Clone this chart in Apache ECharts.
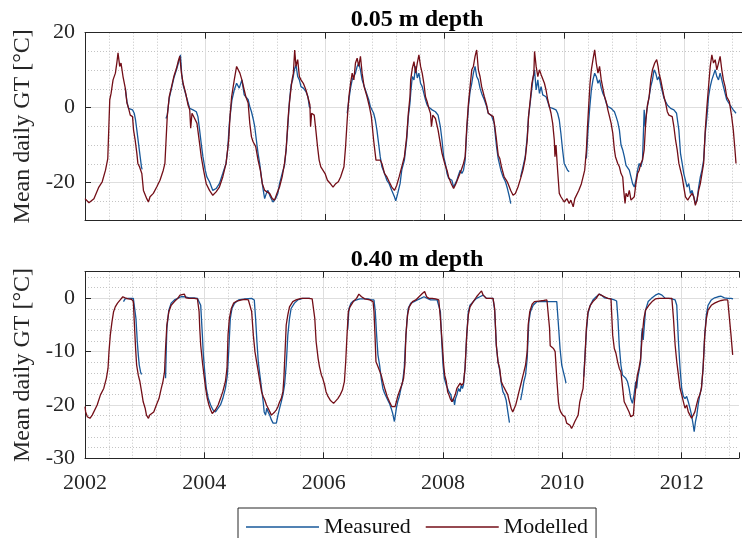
<!DOCTYPE html>
<html><head><meta charset="utf-8">
<script src="https://cdn.jsdelivr.net/npm/echarts@6/dist/echarts.min.js"></script>
<style>html,body{margin:0;padding:0;background:#fff}#c{width:742px;height:538px}</style>
</head><body><div id="c"></div>
<script>
// ---- axis ranges / labels ----
const xMin = 2002, xMax = 2012.96;
const topYMin = -30, topYMax = 20;
const deepYMin = -30, deepYMax = 5;
const panelTitles = ['0.05 m depth', '0.40 m depth'];
const seriesNames = ['Measured', 'Modelled'];
const yAxisName = 'Mean daily GT [°C]';

// ---- 0.05 m depth: [decimal year, °C] ----
const topModelled = [[2002.000,-24.3],[2002.066,-25.4],[2002.149,-24.3],[2002.231,-21.2],[2002.287,-19.8],[2002.342,-16.7],[2002.380,-13.6],[2002.413,2.1],[2002.435,3.8],[2002.468,7.4],[2002.507,9.2],[2002.534,12.3],[2002.551,14.6],[2002.579,11.0],[2002.601,11.9],[2002.634,8.3],[2002.672,5.2],[2002.700,1.2],[2002.727,-0.2],[2002.755,-2.0],[2002.793,-2.4],[2002.810,-6.0],[2002.837,-8.7],[2002.865,-12.2],[2002.882,-14.9],[2002.909,-15.8],[2002.948,-17.6],[2002.975,-22.1],[2003.030,-24.3],[2003.058,-25.2],[2003.085,-23.8],[2003.140,-22.9],[2003.196,-21.2],[2003.251,-19.4],[2003.306,-16.7],[2003.333,-14.9],[2003.372,-2.4],[2003.405,2.9],[2003.444,5.6],[2003.482,8.3],[2003.526,10.5],[2003.554,12.3],[2003.581,13.7],[2003.609,9.2],[2003.636,6.5],[2003.680,3.8],[2003.719,0.7],[2003.747,-0.6],[2003.763,-5.5],[2003.785,-1.5],[2003.829,-2.9],[2003.868,-4.2],[2003.912,-9.6],[2003.939,-13.1],[2003.978,-16.7],[2004.022,-20.3],[2004.077,-22.1],[2004.132,-23.4],[2004.187,-22.5],[2004.242,-21.2],[2004.298,-18.5],[2004.353,-14.9],[2004.397,-8.7],[2004.419,-2.4],[2004.446,2.9],[2004.490,7.4],[2004.529,11.0],[2004.551,10.5],[2004.584,9.2],[2004.617,7.4],[2004.656,4.7],[2004.683,2.9],[2004.722,1.2],[2004.749,-4.2],[2004.777,-7.8],[2004.804,-9.1],[2004.848,-10.4],[2004.887,-14.0],[2004.925,-16.7],[2004.958,-20.3],[2004.997,-22.1],[2005.036,-22.5],[2005.080,-22.9],[2005.124,-24.3],[2005.162,-24.7],[2005.201,-22.9],[2005.245,-21.2],[2005.289,-18.5],[2005.328,-14.9],[2005.355,-11.3],[2005.383,-4.2],[2005.399,-0.6],[2005.421,2.9],[2005.454,7.4],[2005.476,9.2],[2005.498,15.4],[2005.520,11.0],[2005.548,12.8],[2005.576,8.3],[2005.603,7.4],[2005.642,6.5],[2005.686,4.7],[2005.730,2.1],[2005.752,0.7],[2005.763,-5.1],[2005.780,-1.5],[2005.824,-2.0],[2005.851,-6.0],[2005.879,-10.4],[2005.906,-14.0],[2005.934,-15.8],[2005.961,-15.8],[2006.005,-17.6],[2006.044,-19.4],[2006.099,-20.4],[2006.138,-21.2],[2006.182,-20.3],[2006.226,-19.8],[2006.264,-18.5],[2006.320,-15.8],[2006.347,-10.4],[2006.374,-3.3],[2006.402,2.9],[2006.430,6.5],[2006.457,9.2],[2006.485,7.4],[2006.512,11.9],[2006.540,13.2],[2006.567,11.0],[2006.595,13.7],[2006.623,9.2],[2006.656,5.6],[2006.705,2.9],[2006.744,0.3],[2006.777,-2.4],[2006.815,-8.7],[2006.854,-14.0],[2006.887,-14.5],[2006.925,-14.0],[2006.953,-14.9],[2006.997,-17.6],[2007.036,-18.5],[2007.074,-19.8],[2007.118,-21.2],[2007.162,-22.1],[2007.201,-20.7],[2007.240,-18.5],[2007.284,-15.8],[2007.328,-13.1],[2007.366,-7.8],[2007.394,-1.5],[2007.421,2.9],[2007.433,7.4],[2007.460,10.5],[2007.488,12.3],[2007.515,9.2],[2007.543,11.9],[2007.570,14.1],[2007.598,11.0],[2007.625,9.2],[2007.653,6.5],[2007.680,2.9],[2007.708,1.6],[2007.736,-0.2],[2007.763,-1.5],[2007.780,-5.1],[2007.802,-2.0],[2007.846,-2.9],[2007.890,-6.0],[2007.928,-9.6],[2007.956,-12.2],[2008.000,-14.9],[2008.039,-16.7],[2008.066,-18.5],[2008.110,-20.3],[2008.149,-21.6],[2008.187,-20.3],[2008.231,-18.5],[2008.276,-16.7],[2008.314,-14.9],[2008.342,-13.1],[2008.369,-5.1],[2008.397,1.2],[2008.424,5.6],[2008.452,10.1],[2008.479,11.0],[2008.507,13.7],[2008.534,15.4],[2008.562,10.1],[2008.590,8.3],[2008.617,5.6],[2008.661,2.9],[2008.700,0.7],[2008.727,-1.5],[2008.755,-2.0],[2008.810,-2.4],[2008.837,-5.1],[2008.865,-8.7],[2008.893,-12.7],[2008.920,-13.6],[2008.948,-15.8],[2008.992,-18.5],[2009.030,-19.4],[2009.058,-20.3],[2009.102,-22.1],[2009.141,-23.4],[2009.179,-22.9],[2009.223,-21.2],[2009.267,-18.9],[2009.306,-16.7],[2009.344,-13.6],[2009.377,-8.7],[2009.399,-2.4],[2009.433,2.9],[2009.455,6.5],[2009.488,9.2],[2009.499,15.0],[2009.526,11.0],[2009.554,8.3],[2009.581,10.1],[2009.609,8.8],[2009.636,9.2],[2009.664,6.5],[2009.691,4.7],[2009.719,2.1],[2009.747,0.3],[2009.774,-1.5],[2009.802,-4.2],[2009.829,-8.7],[2009.840,-13.1],[2009.857,-10.0],[2009.884,-16.7],[2009.912,-22.9],[2009.939,-23.8],[2009.967,-23.4],[2009.994,-25.2],[2010.039,-24.3],[2010.077,-25.6],[2010.105,-24.7],[2010.144,-26.5],[2010.171,-24.3],[2010.199,-23.8],[2010.237,-22.1],[2010.281,-20.3],[2010.309,-18.5],[2010.336,-16.7],[2010.364,-11.3],[2010.380,-6.0],[2010.402,0.3],[2010.425,6.5],[2010.447,10.1],[2010.474,12.8],[2010.502,15.4],[2010.529,11.9],[2010.557,9.2],[2010.584,11.0],[2010.612,7.4],[2010.639,5.2],[2010.667,2.9],[2010.695,1.6],[2010.722,-0.6],[2010.750,-2.4],[2010.777,-4.2],[2010.805,-6.9],[2010.832,-11.3],[2010.849,-13.1],[2010.887,-14.9],[2010.915,-15.8],[2010.942,-17.6],[2010.970,-18.5],[2010.987,-22.1],[2011.009,-25.6],[2011.025,-22.9],[2011.053,-23.8],[2011.080,-22.1],[2011.108,-24.7],[2011.135,-25.2],[2011.163,-23.8],[2011.190,-20.3],[2011.218,-17.6],[2011.245,-16.7],[2011.273,-14.9],[2011.300,-14.0],[2011.328,-11.3],[2011.356,-3.3],[2011.383,0.7],[2011.411,2.9],[2011.438,7.4],[2011.466,10.1],[2011.504,11.9],[2011.537,12.8],[2011.560,11.0],[2011.576,9.2],[2011.604,7.4],[2011.631,5.2],[2011.659,2.9],[2011.686,1.2],[2011.714,-1.1],[2011.741,-2.0],[2011.796,-2.4],[2011.824,-5.1],[2011.852,-8.7],[2011.879,-11.3],[2011.907,-14.9],[2011.934,-16.7],[2011.962,-18.5],[2011.989,-21.2],[2012.017,-23.8],[2012.055,-24.7],[2012.088,-23.8],[2012.127,-22.9],[2012.155,-23.8],[2012.182,-26.1],[2012.210,-24.7],[2012.237,-22.1],[2012.265,-20.3],[2012.292,-17.6],[2012.320,-14.9],[2012.347,-6.0],[2012.375,0.3],[2012.402,5.6],[2012.430,11.0],[2012.457,14.1],[2012.485,11.9],[2012.513,12.8],[2012.540,10.1],[2012.568,11.9],[2012.595,13.7],[2012.623,10.1],[2012.650,7.4],[2012.678,5.6],[2012.705,2.9],[2012.749,1.6],[2012.788,-2.4],[2012.815,-6.0],[2012.843,-11.3],[2012.860,-14.9]];

const topMeasured = [[2002.672,5.2],[2002.700,1.6],[2002.727,-0.2],[2002.755,-0.4],[2002.793,-0.6],[2002.821,-1.5],[2002.843,-3.3],[2002.865,-6.0],[2002.893,-9.6],[2002.920,-13.1],[2002.942,-15.8],[2002.953,-16.5],[2002.960,null],
[2003.350,-2.9],[2003.372,-2.0],[2003.405,2.5],[2003.444,5.2],[2003.482,7.9],[2003.526,10.1],[2003.565,12.3],[2003.592,14.1],[2003.614,8.8],[2003.636,6.1],[2003.691,2.9],[2003.747,-0.2],[2003.802,-0.6],[2003.857,-1.1],[2003.884,-2.4],[2003.912,-6.0],[2003.939,-9.6],[2003.967,-13.1],[2004.006,-16.7],[2004.033,-18.5],[2004.077,-19.8],[2004.132,-22.1],[2004.187,-21.6],[2004.242,-20.3],[2004.298,-17.6],[2004.353,-14.9],[2004.380,-11.3],[2004.408,-4.2],[2004.435,-0.2],[2004.452,2.1],[2004.490,4.7],[2004.529,6.5],[2004.573,5.2],[2004.617,7.4],[2004.656,3.4],[2004.683,2.9],[2004.722,2.1],[2004.749,0.3],[2004.777,-1.1],[2004.804,-2.9],[2004.832,-5.1],[2004.859,-8.7],[2004.887,-12.2],[2004.914,-14.9],[2004.942,-18.5],[2004.969,-21.6],[2004.997,-24.3],[2005.025,-22.9],[2005.052,-22.1],[2005.091,-23.8],[2005.135,-25.2],[2005.179,-24.3],[2005.217,-22.9],[2005.245,-20.3],[2005.289,-17.6],[2005.328,-15.4],[2005.355,-11.3],[2005.383,-5.1],[2005.410,1.6],[2005.438,6.1],[2005.465,7.4],[2005.493,10.1],[2005.520,11.4],[2005.548,8.3],[2005.576,7.4],[2005.603,5.6],[2005.642,5.2],[2005.686,4.3],[2005.719,2.9],[2005.741,0.3],[2005.768,-0.2],[2005.780,null],
[2006.374,-1.5],[2006.402,2.1],[2006.430,5.2],[2006.457,7.4],[2006.512,9.2],[2006.540,11.0],[2006.567,11.9],[2006.595,10.1],[2006.623,7.4],[2006.678,4.7],[2006.733,2.1],[2006.760,0.3],[2006.788,-0.2],[2006.815,-1.5],[2006.843,-3.3],[2006.870,-6.0],[2006.898,-9.6],[2006.925,-13.1],[2006.953,-15.8],[2006.997,-17.6],[2007.036,-19.4],[2007.074,-20.3],[2007.118,-22.1],[2007.162,-23.8],[2007.184,-24.9],[2007.217,-22.9],[2007.256,-20.3],[2007.284,-16.7],[2007.328,-14.0],[2007.366,-8.7],[2007.394,-2.4],[2007.421,1.2],[2007.433,3.8],[2007.460,8.3],[2007.488,7.4],[2007.515,11.0],[2007.543,7.9],[2007.570,9.2],[2007.598,6.5],[2007.625,5.6],[2007.653,3.8],[2007.680,2.1],[2007.708,0.7],[2007.736,0.1],[2007.791,-0.6],[2007.846,-1.1],[2007.890,-2.0],[2007.928,-5.1],[2007.956,-8.7],[2007.983,-13.1],[2008.011,-14.9],[2008.039,-17.6],[2008.066,-18.9],[2008.094,-18.5],[2008.121,-19.4],[2008.149,-21.2],[2008.176,-20.3],[2008.204,-19.4],[2008.231,-18.0],[2008.259,-16.7],[2008.287,-17.6],[2008.314,-16.7],[2008.342,-14.0],[2008.369,-6.0],[2008.397,0.3],[2008.424,4.3],[2008.452,6.5],[2008.479,9.2],[2008.507,11.0],[2008.534,8.3],[2008.562,7.4],[2008.590,5.2],[2008.617,3.8],[2008.661,2.1],[2008.700,0.3],[2008.727,-1.5],[2008.782,-2.2],[2008.826,-4.2],[2008.865,-10.4],[2008.893,-13.6],[2008.937,-16.7],[2008.975,-18.5],[2009.014,-19.8],[2009.047,-21.6],[2009.080,-23.8],[2009.102,-25.6],[2009.110,null],
[2009.267,-18.5],[2009.306,-15.8],[2009.344,-13.1],[2009.377,-7.8],[2009.399,-2.4],[2009.433,2.1],[2009.471,7.4],[2009.499,10.1],[2009.526,4.7],[2009.554,7.4],[2009.581,3.8],[2009.609,5.6],[2009.636,3.4],[2009.664,3.8],[2009.691,2.9],[2009.719,1.6],[2009.747,0.1],[2009.802,-0.2],[2009.857,-0.6],[2009.884,-1.5],[2009.912,-3.3],[2009.939,-6.9],[2009.967,-11.3],[2009.994,-14.9],[2010.022,-15.8],[2010.050,-16.7],[2010.077,-17.1],[2010.090,null],
[2010.364,-13.6],[2010.391,-6.0],[2010.419,-0.2],[2010.447,4.7],[2010.474,7.4],[2010.502,9.2],[2010.529,8.3],[2010.557,6.5],[2010.584,7.4],[2010.612,5.2],[2010.639,3.8],[2010.667,2.9],[2010.695,1.2],[2010.722,0.3],[2010.777,-0.2],[2010.832,-1.1],[2010.860,-2.4],[2010.887,-3.8],[2010.915,-6.0],[2010.942,-10.0],[2010.970,-11.3],[2010.997,-13.1],[2011.025,-15.4],[2011.053,-15.8],[2011.080,-16.7],[2011.108,-18.5],[2011.135,-20.3],[2011.163,-21.2],[2011.190,-19.4],[2011.218,-16.7],[2011.245,-14.9],[2011.273,-15.8],[2011.300,-14.0],[2011.317,-6.0],[2011.328,-0.6],[2011.345,-5.1],[2011.372,-0.6],[2011.411,2.9],[2011.438,5.6],[2011.466,7.4],[2011.493,10.1],[2011.521,9.2],[2011.548,7.4],[2011.576,8.3],[2011.604,6.1],[2011.631,4.3],[2011.659,2.5],[2011.686,1.6],[2011.714,0.7],[2011.769,-0.2],[2011.824,-0.6],[2011.868,-1.5],[2011.907,-6.0],[2011.934,-12.2],[2011.962,-14.9],[2011.989,-17.6],[2012.017,-19.4],[2012.044,-21.2],[2012.072,-20.3],[2012.099,-22.9],[2012.127,-22.1],[2012.155,-23.8],[2012.182,-25.6],[2012.210,-24.7],[2012.237,-21.2],[2012.265,-18.5],[2012.292,-16.7],[2012.320,-14.0],[2012.347,-6.9],[2012.375,-2.4],[2012.402,2.9],[2012.430,5.6],[2012.457,7.4],[2012.485,7.9],[2012.513,10.1],[2012.540,8.3],[2012.568,7.4],[2012.595,9.2],[2012.623,7.4],[2012.650,5.6],[2012.678,3.8],[2012.705,2.1],[2012.733,1.6],[2012.760,0.7],[2012.815,-0.6],[2012.860,-1.5]];

// ---- 0.40 m depth: [decimal year, °C] ----
const deepModelled = [[2002.000,-20.3],[2002.011,-21.3],[2002.039,-22.2],[2002.083,-22.5],[2002.121,-21.9],[2002.149,-21.6],[2002.204,-20.0],[2002.259,-18.1],[2002.314,-16.9],[2002.358,-15.0],[2002.386,-13.1],[2002.402,-10.0],[2002.424,-6.9],[2002.452,-4.4],[2002.479,-2.5],[2002.507,-1.6],[2002.545,-0.9],[2002.590,-0.3],[2002.634,0.3],[2002.672,0.1],[2002.727,-0.1],[2002.782,-0.2],[2002.810,-0.6],[2002.826,-4.4],[2002.848,-9.4],[2002.865,-12.5],[2002.893,-14.4],[2002.920,-15.6],[2002.948,-17.5],[2002.975,-19.4],[2003.008,-20.6],[2003.030,-21.9],[2003.063,-22.5],[2003.085,-21.9],[2003.113,-21.6],[2003.152,-21.3],[2003.196,-20.0],[2003.240,-18.8],[2003.278,-16.9],[2003.306,-15.6],[2003.333,-13.8],[2003.350,-9.4],[2003.372,-5.0],[2003.405,-2.5],[2003.444,-1.3],[2003.499,-0.6],[2003.554,0.0],[2003.592,0.6],[2003.625,0.3],[2003.664,0.8],[2003.691,0.1],[2003.747,0.0],[2003.829,0.0],[2003.884,-0.1],[2003.912,-2.5],[2003.923,-5.6],[2003.939,-8.8],[2003.967,-11.9],[2003.994,-14.4],[2004.022,-16.9],[2004.050,-18.8],[2004.077,-20.0],[2004.105,-20.9],[2004.132,-21.6],[2004.160,-21.3],[2004.187,-20.9],[2004.231,-20.0],[2004.270,-18.8],[2004.309,-17.5],[2004.353,-15.6],[2004.380,-13.1],[2004.397,-6.9],[2004.419,-3.8],[2004.452,-1.9],[2004.490,-0.9],[2004.545,-0.5],[2004.628,-0.3],[2004.683,-0.2],[2004.738,-0.3],[2004.766,-0.3],[2004.793,-2.5],[2004.821,-6.9],[2004.848,-10.0],[2004.876,-11.9],[2004.904,-13.8],[2004.931,-15.6],[2004.959,-17.5],[2004.986,-18.4],[2005.014,-19.1],[2005.041,-20.0],[2005.069,-20.6],[2005.096,-20.9],[2005.124,-21.9],[2005.152,-22.2],[2005.179,-21.3],[2005.207,-20.9],[2005.234,-20.3],[2005.262,-19.4],[2005.289,-18.8],[2005.317,-17.5],[2005.333,-15.0],[2005.355,-9.4],[2005.372,-5.0],[2005.399,-3.1],[2005.427,-1.6],[2005.482,-0.6],[2005.537,-0.3],[2005.620,0.0],[2005.697,0.0],[2005.752,0.0],[2005.807,-0.1],[2005.835,-0.3],[2005.851,-3.8],[2005.873,-8.1],[2005.907,-11.3],[2005.929,-12.8],[2005.962,-14.4],[2005.984,-15.0],[2006.017,-16.3],[2006.039,-17.5],[2006.072,-18.4],[2006.110,-19.1],[2006.138,-19.4],[2006.166,-19.7],[2006.193,-19.4],[2006.237,-18.8],[2006.276,-18.1],[2006.314,-17.2],[2006.347,-15.6],[2006.369,-11.9],[2006.391,-6.9],[2006.413,-2.5],[2006.441,-1.6],[2006.496,-0.6],[2006.551,0.0],[2006.590,0.8],[2006.634,0.3],[2006.689,-0.1],[2006.772,-0.3],[2006.827,-0.6],[2006.843,-2.5],[2006.860,-6.9],[2006.876,-11.9],[2006.909,-12.8],[2006.937,-13.1],[2006.964,-14.4],[2006.998,-15.9],[2007.031,-17.2],[2007.064,-18.4],[2007.102,-19.4],[2007.141,-20.3],[2007.174,-20.6],[2007.196,-20.3],[2007.218,-19.4],[2007.240,-18.4],[2007.267,-17.5],[2007.306,-16.3],[2007.339,-15.0],[2007.361,-12.5],[2007.378,-6.9],[2007.405,-3.1],[2007.433,-1.6],[2007.488,-0.6],[2007.543,-0.3],[2007.598,0.3],[2007.653,0.9],[2007.692,1.3],[2007.725,0.3],[2007.763,0.0],[2007.818,0.0],[2007.874,-0.1],[2007.929,-0.3],[2007.956,-3.8],[2007.984,-8.1],[2008.011,-12.5],[2008.028,-14.4],[2008.055,-15.6],[2008.077,-17.5],[2008.099,-18.1],[2008.121,-18.8],[2008.149,-19.4],[2008.177,-18.8],[2008.204,-18.1],[2008.232,-16.9],[2008.259,-16.9],[2008.287,-15.9],[2008.314,-16.3],[2008.342,-15.9],[2008.369,-13.1],[2008.397,-6.9],[2008.424,-3.1],[2008.452,-1.6],[2008.507,-0.6],[2008.562,0.3],[2008.606,0.9],[2008.645,1.4],[2008.673,0.6],[2008.727,0.0],[2008.783,0.0],[2008.838,0.0],[2008.865,-1.9],[2008.893,-8.8],[2008.921,-11.9],[2008.948,-13.1],[2008.976,-15.6],[2009.003,-16.3],[2009.031,-16.6],[2009.058,-17.5],[2009.086,-18.1],[2009.113,-19.4],[2009.141,-20.6],[2009.168,-21.3],[2009.196,-21.1],[2009.218,-20.0],[2009.245,-18.8],[2009.273,-17.5],[2009.300,-16.3],[2009.328,-15.0],[2009.355,-13.8],[2009.383,-12.5],[2009.410,-10.0],[2009.427,-5.0],[2009.454,-2.5],[2009.493,-1.1],[2009.532,-0.6],[2009.603,-0.5],[2009.686,-0.4],[2009.741,-0.3],[2009.769,-0.3],[2009.785,-5.6],[2009.796,-8.9],[2009.824,-9.1],[2009.851,-9.4],[2009.879,-10.0],[2009.906,-15.0],[2009.934,-19.4],[2009.950,-20.6],[2009.972,-21.3],[2010.005,-21.9],[2010.044,-22.2],[2010.072,-23.4],[2010.099,-23.1],[2010.127,-23.8],[2010.154,-24.4],[2010.182,-23.8],[2010.209,-23.1],[2010.237,-22.5],[2010.264,-21.9],[2010.292,-19.4],[2010.319,-18.1],[2010.347,-16.9],[2010.375,-11.9],[2010.402,-5.6],[2010.430,-2.5],[2010.468,-1.3],[2010.512,-0.6],[2010.567,0.0],[2010.611,0.8],[2010.650,0.6],[2010.678,0.8],[2010.705,0.3],[2010.760,0.0],[2010.815,-0.1],[2010.843,-6.9],[2010.870,-9.4],[2010.898,-10.3],[2010.926,-11.9],[2010.953,-13.1],[2010.981,-13.8],[2011.008,-16.6],[2011.036,-19.4],[2011.063,-20.0],[2011.091,-20.3],[2011.118,-21.3],[2011.146,-22.2],[2011.174,-22.5],[2011.190,-21.9],[2011.207,-19.4],[2011.229,-16.9],[2011.256,-14.4],[2011.284,-13.1],[2011.311,-11.3],[2011.339,-6.9],[2011.366,-3.8],[2011.394,-2.2],[2011.449,-1.3],[2011.504,-0.6],[2011.559,-0.1],[2011.614,0.0],[2011.697,0.0],[2011.780,0.0],[2011.835,0.0],[2011.862,-3.8],[2011.890,-8.8],[2011.917,-11.9],[2011.945,-14.4],[2011.972,-16.9],[2012.000,-18.1],[2012.028,-19.4],[2012.055,-20.6],[2012.083,-20.0],[2012.110,-21.3],[2012.138,-21.9],[2012.165,-22.5],[2012.193,-21.9],[2012.220,-21.3],[2012.248,-20.0],[2012.275,-18.8],[2012.303,-18.1],[2012.330,-16.9],[2012.358,-13.1],[2012.386,-6.9],[2012.413,-3.8],[2012.441,-2.2],[2012.496,-1.3],[2012.551,-0.9],[2012.606,-0.6],[2012.661,-0.4],[2012.716,-0.3],[2012.771,-0.3],[2012.799,-0.6],[2012.826,-6.9],[2012.854,-10.6]];

const deepMeasured = [[2002.645,-0.6],[2002.672,-0.1],[2002.727,0.0],[2002.810,0.0],[2002.837,-0.1],[2002.854,-3.8],[2002.876,-8.1],[2002.893,-10.6],[2002.909,-12.5],[2002.931,-13.8],[2002.948,-14.3],[2002.955,null],
[2003.350,-15.0],[2003.361,-10.0],[2003.372,-5.6],[2003.405,-2.2],[2003.444,-0.9],[2003.499,-0.3],[2003.554,0.0],[2003.609,0.3],[2003.664,0.3],[2003.747,0.1],[2003.829,0.1],[2003.884,0.0],[2003.912,-0.1],[2003.939,-1.3],[2003.967,-6.9],[2003.983,-10.6],[2004.011,-14.4],[2004.033,-16.9],[2004.066,-18.8],[2004.105,-20.0],[2004.143,-20.9],[2004.187,-21.3],[2004.231,-20.6],[2004.270,-20.0],[2004.309,-18.8],[2004.353,-16.9],[2004.386,-14.4],[2004.408,-10.0],[2004.435,-3.8],[2004.463,-1.9],[2004.507,-0.9],[2004.573,-0.3],[2004.683,-0.1],[2004.793,0.0],[2004.837,-0.3],[2004.859,-3.8],[2004.881,-8.1],[2004.904,-11.9],[2004.931,-14.4],[2004.959,-16.9],[2004.986,-19.4],[2005.003,-21.3],[2005.025,-21.9],[2005.047,-20.6],[2005.069,-21.3],[2005.096,-21.9],[2005.124,-22.8],[2005.152,-23.4],[2005.179,-23.1],[2005.207,-23.4],[2005.234,-21.9],[2005.262,-20.6],[2005.289,-19.4],[2005.317,-18.1],[2005.344,-16.3],[2005.372,-12.5],[2005.399,-6.9],[2005.427,-3.8],[2005.454,-1.9],[2005.510,-0.9],[2005.565,-0.3],[2005.647,0.0],[2005.770,0.0],[2005.780,null],
[2006.402,-5.9],[2006.424,-1.9],[2006.457,-0.9],[2006.496,-0.5],[2006.551,-0.3],[2006.606,-0.1],[2006.744,-0.1],[2006.799,-0.3],[2006.843,-0.3],[2006.865,-2.5],[2006.887,-6.9],[2006.909,-10.6],[2006.937,-12.5],[2006.964,-15.0],[2006.992,-16.9],[2007.020,-17.8],[2007.047,-18.1],[2007.075,-19.1],[2007.102,-19.7],[2007.130,-20.6],[2007.157,-21.6],[2007.185,-23.1],[2007.201,-21.9],[2007.218,-20.6],[2007.240,-19.4],[2007.267,-18.4],[2007.295,-16.9],[2007.323,-15.6],[2007.350,-13.1],[2007.372,-8.1],[2007.394,-4.4],[2007.416,-1.9],[2007.460,-0.9],[2007.515,-0.6],[2007.571,-0.3],[2007.626,0.0],[2007.680,0.3],[2007.736,0.0],[2007.791,-0.3],[2007.846,-0.3],[2007.901,-0.3],[2007.929,-0.5],[2007.956,-2.5],[2007.978,-8.1],[2008.000,-12.5],[2008.022,-15.0],[2008.055,-16.3],[2008.077,-16.3],[2008.099,-17.5],[2008.132,-18.1],[2008.154,-19.4],[2008.177,-18.8],[2008.193,-20.0],[2008.209,-18.8],[2008.232,-18.1],[2008.259,-16.9],[2008.287,-17.5],[2008.303,-16.3],[2008.325,-16.9],[2008.342,-16.3],[2008.369,-13.1],[2008.397,-6.9],[2008.424,-2.5],[2008.452,-1.3],[2008.507,-0.6],[2008.562,0.0],[2008.617,0.3],[2008.673,0.6],[2008.727,0.0],[2008.783,0.0],[2008.838,0.0],[2008.865,-2.2],[2008.893,-8.8],[2008.921,-11.9],[2008.948,-13.4],[2008.976,-15.9],[2009.003,-17.5],[2009.031,-18.1],[2009.058,-19.1],[2009.086,-21.3],[2009.113,-23.3],[2009.120,null],
[2009.300,-19.1],[2009.328,-17.5],[2009.355,-15.6],[2009.383,-14.4],[2009.410,-11.3],[2009.438,-4.4],[2009.465,-2.5],[2009.510,-1.3],[2009.576,-0.6],[2009.658,-0.6],[2009.741,-0.6],[2009.824,-0.6],[2009.906,-0.6],[2009.934,-5.0],[2009.961,-9.4],[2009.989,-12.5],[2010.017,-13.8],[2010.044,-15.0],[2010.061,-15.9],[2010.070,null],
[2010.358,-14.7],[2010.380,-10.6],[2010.402,-6.3],[2010.430,-2.8],[2010.468,-1.3],[2010.512,-0.3],[2010.567,0.3],[2010.623,0.8],[2010.667,0.5],[2010.705,0.1],[2010.760,0.0],[2010.815,-0.1],[2010.870,-0.3],[2010.909,-0.5],[2010.931,-3.8],[2010.953,-8.8],[2010.981,-12.5],[2011.008,-14.4],[2011.036,-14.7],[2011.063,-15.0],[2011.091,-15.6],[2011.118,-16.9],[2011.146,-18.8],[2011.174,-19.7],[2011.201,-18.1],[2011.229,-15.6],[2011.245,-16.9],[2011.262,-15.0],[2011.284,-15.3],[2011.311,-11.9],[2011.328,-6.9],[2011.339,-5.6],[2011.355,-7.8],[2011.372,-5.3],[2011.394,-2.2],[2011.438,-0.6],[2011.493,0.0],[2011.559,0.6],[2011.614,0.9],[2011.669,0.6],[2011.724,0.0],[2011.779,0.0],[2011.835,-0.1],[2011.890,-0.3],[2011.917,-1.3],[2011.945,-8.1],[2011.972,-13.1],[2012.000,-16.9],[2012.028,-18.4],[2012.055,-18.8],[2012.083,-18.4],[2012.110,-19.4],[2012.138,-20.6],[2012.165,-21.9],[2012.193,-23.8],[2012.209,-25.0],[2012.231,-23.1],[2012.253,-21.9],[2012.275,-20.0],[2012.303,-18.1],[2012.330,-16.9],[2012.358,-13.1],[2012.386,-6.9],[2012.413,-3.1],[2012.441,-1.3],[2012.496,-0.3],[2012.551,0.1],[2012.606,0.3],[2012.661,0.4],[2012.716,0.1],[2012.771,0.0],[2012.826,0.0],[2012.860,-0.1]];

// ---- styling ----
const FONT = 'Liberation Serif';
const AX = '#262626';
const BLUE = '#17589a';
const RED = '#730e17';
const MAJOR_GRID = '#dedede';
const MINOR_GRID = '#c4c4c4';

const grids = [
  {left: 85, right: -7, top: 32.7, height: 187.3},
  {left: 85, right: -7, top: 271.7, height: 186.6}
];

function minorX(g) {
  return {type: 'value', gridIndex: g, position: 'bottom', min: xMin, max: xMax, interval: 0.4,
    axisLine: {show: false}, axisTick: {show: false}, axisLabel: {show: false},
    splitLine: {show: true, showMinLine: false, showMaxLine: false, lineStyle: {color: MINOR_GRID, width: 1, type: [1, 2]}}};
}
function majorX(g, labels) {
  return {type: 'value', gridIndex: g, position: 'bottom', min: xMin, max: xMax, minInterval: 2, maxInterval: 2,
    axisLine: {show: true, onZero: false, lineStyle: {color: AX, width: 1}},
    axisTick: {show: true, inside: true, length: 6, lineStyle: {color: AX}},
    axisLabel: {show: labels, margin: 14, fontFamily: FONT, fontSize: 22, color: AX,
      formatter: v => (Math.abs(v - Math.round(v)) < 1e-6 && Math.round(v) % 2 === 0) ? String(Math.round(v)) : ''},
    splitLine: {show: true, showMinLine: false, showMaxLine: false, lineStyle: {color: MAJOR_GRID, width: 1}}};
}
function topX(g) {
  return {type: 'value', gridIndex: g, position: 'top', min: xMin, max: xMax, minInterval: 2, maxInterval: 2,
    axisLine: {show: true, onZero: false, lineStyle: {color: AX, width: 1}},
    axisTick: {show: true, inside: true, length: 6, lineStyle: {color: AX}},
    axisLabel: {show: false}, splitLine: {show: false}};
}
function minorY(g, mn, mx, step) {
  return {type: 'value', gridIndex: g, position: 'left', min: mn, max: mx, interval: step,
    axisLine: {show: false}, axisTick: {show: false}, axisLabel: {show: false},
    splitLine: {show: true, showMinLine: false, showMaxLine: false, lineStyle: {color: MINOR_GRID, width: 1, type: [1, 2]}}};
}
function majorY(g, mn, mx, step) {
  return {type: 'value', gridIndex: g, position: 'left', min: mn, max: mx, minInterval: step, maxInterval: step,
    name: yAxisName, nameLocation: 'middle', nameGap: 50,
    nameTextStyle: {fontFamily: FONT, fontSize: 24, color: AX},
    axisLine: {show: true, onZero: false, lineStyle: {color: AX, width: 1}},
    axisTick: {show: true, inside: true, length: 6, lineStyle: {color: AX}},
    axisLabel: {margin: 10, fontFamily: FONT, fontSize: 22, color: AX, showMinLabel: true, showMaxLabel: true,
      formatter: v => (Math.abs(v % step) < 1e-9) ? String(v) : ''},
    splitLine: {show: true, showMinLine: false, showMaxLine: false, lineStyle: {color: MAJOR_GRID, width: 1}}};
}

function line(name, data, xi, yi, color, z) {
  return {type: 'line', name: name, data: data, xAxisIndex: xi, yAxisIndex: yi,
    symbol: 'none', showSymbol: false, connectNulls: false, clip: true, z: z,
    lineStyle: {color: color, width: 1.3}, itemStyle: {color: color}, emphasis: {disabled: true}};
}

const chart = echarts.init(document.getElementById('c'));
chart.setOption({
  animation: false,
  backgroundColor: '#fff',
  grid: grids,
  xAxis: [minorX(0), majorX(0, false), topX(0), minorX(1), majorX(1, true), topX(1)],
  yAxis: [minorY(0, topYMin, topYMax, 5), majorY(0, topYMin, topYMax, 20),
          minorY(1, deepYMin, deepYMax, 2), majorY(1, deepYMin, deepYMax, 10)],
  graphic: [
    {type: 'text', x: 417, y: 8, z: 10, style: {text: panelTitles[0], font: 'bold 24px "Liberation Serif"', fill: '#000', align: 'center', verticalAlign: 'top'}},
    {type: 'text', x: 417, y: 248, z: 10, style: {text: panelTitles[1], font: 'bold 24px "Liberation Serif"', fill: '#000', align: 'center', verticalAlign: 'top'}}
  ],
  legend: {data: seriesNames.map(n => ({name: n, icon: 'rect'})), left: 238, top: 508, orient: 'horizontal', padding: [8, 8, 8, 8],
    itemGap: 15, itemWidth: 73, itemHeight: 1.4, borderColor: AX, borderWidth: 1, borderRadius: 0,
    backgroundColor: '#fff', selectedMode: false,
    textStyle: {fontFamily: FONT, fontSize: 22, color: '#111'}},
  series: [
    line(seriesNames[0], topMeasured, 1, 1, BLUE, 2),
    line(seriesNames[1], topModelled, 1, 1, RED, 3),
    line(seriesNames[0], deepMeasured, 4, 3, BLUE, 2),
    line(seriesNames[1], deepModelled, 4, 3, RED, 3)
  ]
});
</script>
</body></html>
